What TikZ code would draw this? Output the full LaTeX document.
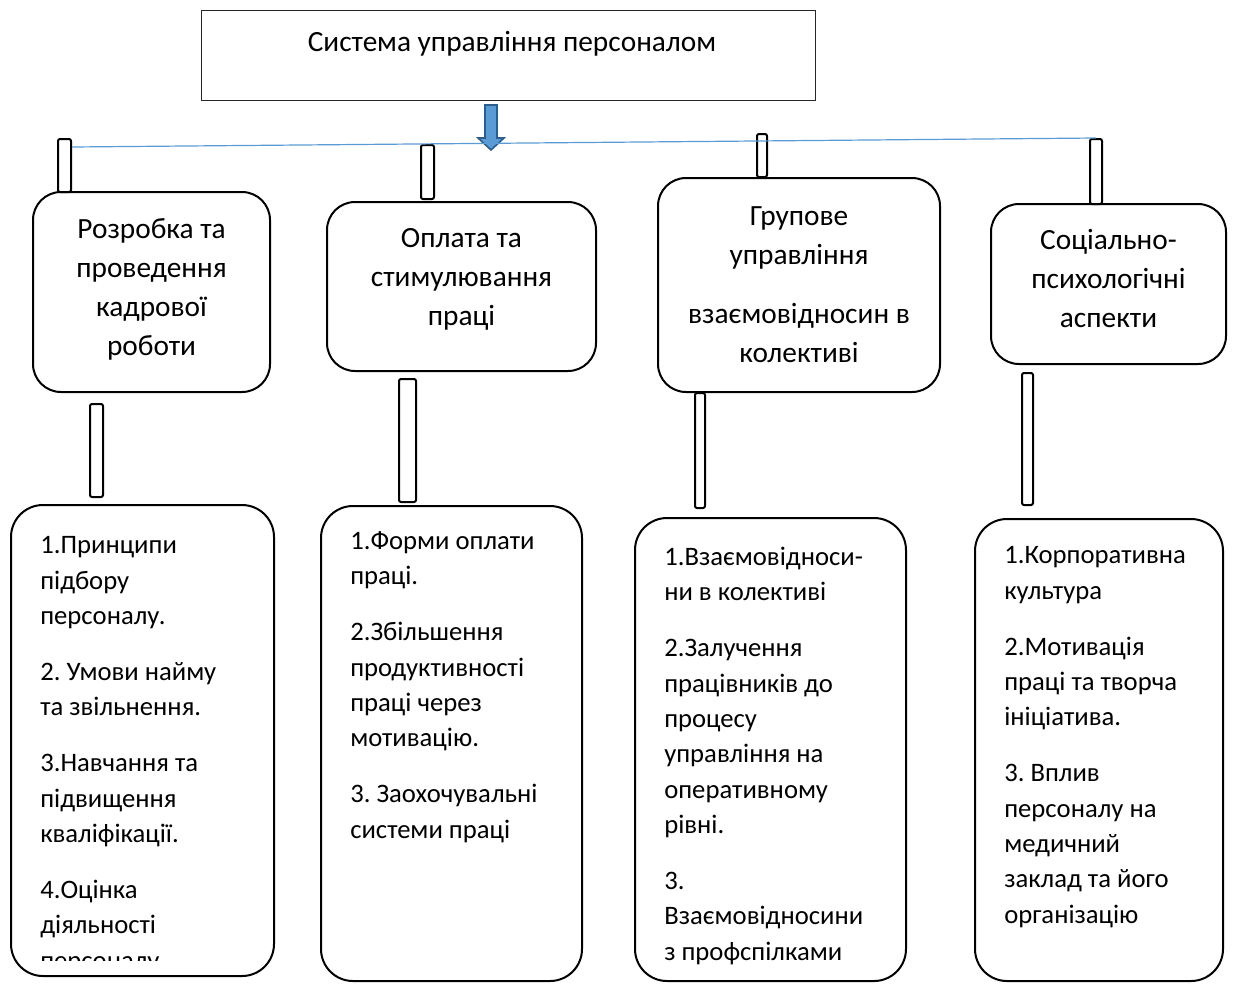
\documentclass[tikz,border=0pt]{standalone}
\usepackage{fontspec}
\setmainfont{Carlito}
\frenchspacing
\usetikzlibrary{calc}
\definecolor{lineblue}{HTML}{5B9BD5}
\definecolor{arrowedge}{HTML}{2E5D8C}

\begin{document}
\begin{tikzpicture}[x=0.75pt,y=-0.75pt,
    topbox/.style={draw=black!85, line width=0.75pt, inner sep=0pt},
    midbox/.style={draw, line width=1.5pt, rounded corners=21pt, inner sep=0pt},
    lowbox/.style={draw, line width=1.5pt, rounded corners=24pt, inner sep=0pt},
    bar/.style={draw, line width=1.5pt, rounded corners=1.5pt, inner sep=0pt},
    midtext/.style={font=\fontsize{22}{29.25}\selectfont, align=center, inner sep=0pt, anchor=base},
    lowtext/.style={font=\fontsize{20}{26.5}\selectfont, align=left, inner sep=0pt, anchor=base west}]
    \useasboundingbox (0,0) rectangle (1235,983);

    % Top box
    \node[topbox, minimum width=460.5pt, minimum height=67.5pt] (top) at (508,55) {};
    \node[font=\fontsize{22}{26}\selectfont, inner sep=0pt, anchor=base] (toptext) at (512,51) {Система управління персоналом};
    \fill[lineblue, draw=arrowedge, line width=1.2pt] (485,105) -- (497,105) -- (497,138) -- (504,138) -- (491,150) -- (478,138) -- (485,138) -- cycle;

    % Upper bars
    \node[bar, minimum width=9.75pt, minimum height=39.75pt] (t1) at (64.5,165.5) {};
    \node[bar, minimum width=9.75pt, minimum height=40.5pt] (t2) at (427.5,172) {};
    \node[bar, minimum width=7.5pt, minimum height=32.25pt] (t3) at (762,155.5) {};
    \node[bar, minimum width=9pt, minimum height=48.75pt] (t4) at (1096,171.5) {};
    \draw[lineblue, line width=0.9pt] ($(t1.north east)+(0,9)$) -- (t4.north);

    % Middle boxes (text anchored at the last baseline)
    \node[midbox, minimum width=177.75pt, minimum height=150pt] (m1) at (151.5,292) {};
    \node[midbox, minimum width=201.75pt, minimum height=126.75pt] (m2) at (461.5,286.5) {};
    \node[midbox, minimum width=211.5pt, minimum height=160.5pt] (m3) at (799,285) {};
    \node[midbox, minimum width=176.25pt, minimum height=120pt] (m4) at (1108.5,284) {};
    \node[midtext] (m1text) at (151.5,355) {Розробка та\\ проведення\\ кадрової\\ роботи};
    \node[midtext] (m2text) at (461.5,325) {Оплата та\\ стимулювання\\ праці};
    \node[midtext] (m3text) at (799,362) {Групове\\ управління\\[15pt] взаємовідносин в\\ колективі};
    \node[midtext] (m4text) at (1108.5,327) {Соціально-\\ психологічні\\ аспекти};

    % Lower bars
    \node[bar, minimum width=9.75pt, minimum height=69.75pt] (l1) at (96.5,450.5) {};
    \node[bar, minimum width=12.75pt, minimum height=92.25pt] (l2) at (407.5,440.5) {};
    \node[bar, minimum width=7.5pt, minimum height=86.25pt] (l3) at (700,450.5) {};
    \node[bar, minimum width=8.25pt, minimum height=99pt] (l4) at (1027.5,439) {};

    % Lower boxes
    \node[lowbox, minimum width=197.25pt, minimum height=353.25pt] (d1) at (142.5,740.5) {};
    \node[lowbox, minimum width=195.75pt, minimum height=356.25pt] (d2) at (451.5,743.5) {};
    \node[lowbox, minimum width=203.25pt, minimum height=347.25pt] (d3) at (770.5,749.5) {};
    \node[lowbox, minimum width=186pt, minimum height=346.5pt] (d4) at (1099,750) {};
    \begin{scope}
        \clip (0,0) rectangle (1235,960);
        \node[lowtext] (d1text) at (40,969) {1.Принципи\\ підбору\\ персоналу.\\[15.5pt] 2. Умови найму\\ та звільнення.\\[15.5pt] 3.Навчання та\\ підвищення\\ кваліфікації.\\[15.5pt] 4.Оцінка\\ діяльності\\ персоналу.};
    \end{scope}
    \node[lowtext] (d2text) at (350,838) {1.Форми оплати\\ праці.\\[15.5pt] 2.Збільшення\\ продуктивності\\ праці через\\ мотивацію.\\[15.5pt] 3. Заохочувальні\\ системи праці};
    \node[lowtext] (d3text) at (664,960) {1.Взаємовідноси-\\ ни в колективі\\[15.5pt] 2.Залучення\\ працівників до\\ процесу\\ управління на\\ оперативному\\ рівні.\\[15.5pt] 3.\\ Взаємовідносини\\ з профспілками};
    \node[lowtext] (d4text) at (1004,923) {1.Корпоративна\\ культура\\[15.5pt] 2.Мотивація\\ праці та творча\\ ініціатива.\\[15.5pt] 3. Вплив\\ персоналу на\\ медичний\\ заклад та його\\ організацію};
\end{tikzpicture}
\end{document}
